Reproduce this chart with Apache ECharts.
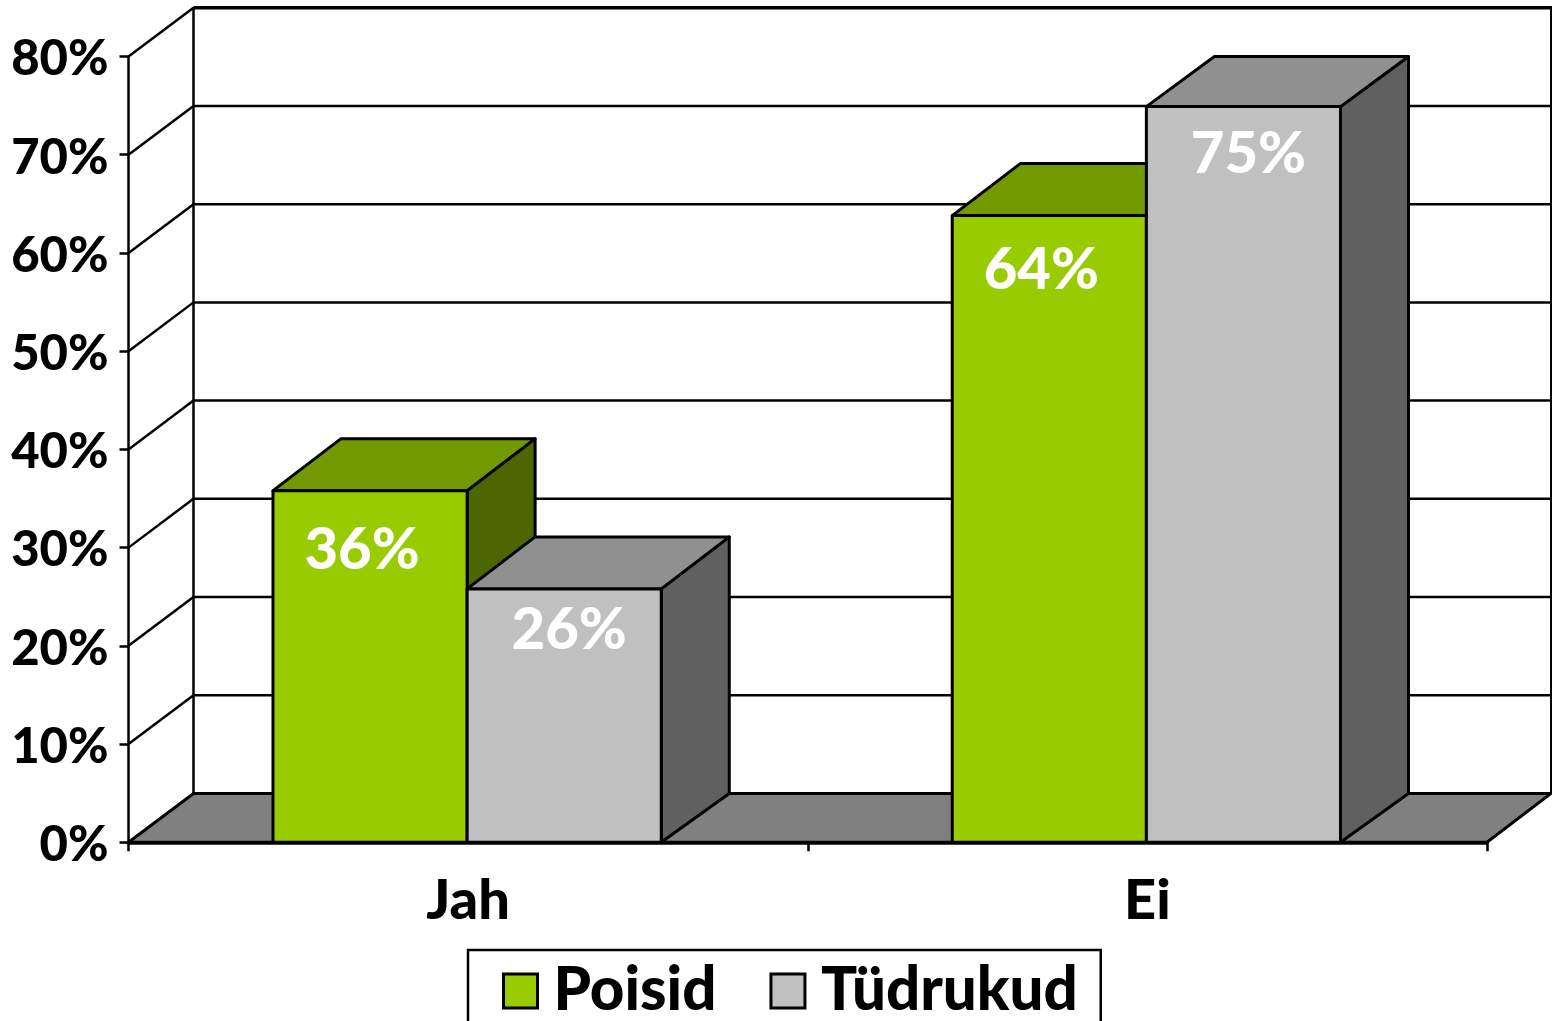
<!DOCTYPE html>
<html><head><meta charset="utf-8">
<style>html,body{margin:0;padding:0;background:#fff}#c{width:1552px;height:1021px}</style>
<script src="https://cdn.jsdelivr.net/npm/echarts@6/dist/echarts.min.js"></script>
</head><body><div id="c"></div>
<script>
const categories = ['Jah', 'Ei'];
const yTicks = [0, 10, 20, 30, 40, 50, 60, 70, 80];
const poisid = [35.8, 63.8];
const tudrukud = [25.8, 74.9];
const poisidLabels = ['36%', '64%'];
const tudrukudLabels = ['26%', '75%'];
const poisidLabelDrop = [60, 55];
const tudrukudLabelDrop = [41, 48];

const FONT = 'Lato';
const WALL_DX = 65, WALL_DY = 48.8;
const BAR_DX = 68, BAR_DY = 52;
const BAR_RATIO = 0.2858;
const BAR_NUDGE = -1;

function wallItem(params, api) {
  const c = params.coordSys;
  const b = c.y + c.height, r = c.x + c.width;
  const top = c.y - WALL_DY, bx = c.x + WALL_DX, by = b - WALL_DY;
  return { type: 'group', children: [
    { type: 'polygon', shape: { points: [[c.x, b], [bx, by], [r + WALL_DX - 1, by], [r, b]] },
      style: { fill: '#808080', stroke: '#000', lineWidth: 3 } },
    { type: 'line', shape: { x1: bx, y1: top, x2: bx, y2: by }, style: { stroke: '#000', lineWidth: 2.5 } },
    { type: 'line', shape: { x1: bx, y1: top, x2: r + WALL_DX, y2: top }, style: { stroke: '#000', lineWidth: 3.5 } },
    { type: 'line', shape: { x1: r + WALL_DX - 1, y1: top, x2: r + WALL_DX - 1, y2: by }, style: { stroke: '#000', lineWidth: 2 } }
  ]};
}
function gridItem(params, api) {
  const c = params.coordSys;
  const y = api.coord([0, api.value(0)])[1];
  const style = { stroke: '#000', lineWidth: 2.5 };
  return { type: 'group', children: [
    { type: 'line', shape: { x1: c.x, y1: y, x2: c.x + WALL_DX, y2: y - WALL_DY }, style },
    { type: 'line', shape: { x1: c.x + WALL_DX, y1: y - WALL_DY, x2: c.x + c.width + WALL_DX, y2: y - WALL_DY }, style }
  ]};
}
function barRenderer(side, front, top, dark, labels, drops, labelShift) {
  return function (params, api) {
    const idx = api.value(0);
    const p = api.coord([idx, api.value(1)]);
    const base = api.coord([idx, 0])[1];
    const ceil = api.coord([idx, 80])[1];
    const w = api.size([1, 0])[0] * BAR_RATIO;
    const x0 = (side < 0 ? p[0] - w : p[0]) + BAR_NUDGE;
    const x1 = x0 + w, y = p[1];
    const by = Math.max(y - BAR_DY, ceil);
    const line = { stroke: '#000', lineWidth: 3, lineJoin: 'round' };
    return { type: 'group', children: [
      { type: 'polygon', shape: { points: [[x1, y], [x1 + BAR_DX, by], [x1 + BAR_DX, base - WALL_DY], [x1, base]] },
        style: Object.assign({ fill: dark }, line) },
      { type: 'polygon', shape: { points: [[x0, y], [x0 + BAR_DX, by], [x1 + BAR_DX, by], [x1, y]] },
        style: Object.assign({ fill: top }, line) },
      { type: 'rect', shape: { x: x0, y: y, width: w, height: base - y },
        style: Object.assign({ fill: front }, line) },
      { type: 'text', z2: 10, style: { text: labels[idx], x: (x0 + x1) / 2 + labelShift, y: y + drops[idx],
          fill: '#fff', fontSize: 58, fontWeight: 900, fontFamily: FONT, align: 'center', verticalAlign: 'middle' } }
    ]};
  };
}

const chart = echarts.init(document.getElementById('c'), null, { renderer: 'canvas' });
chart.setOption({
  animation: false,
  backgroundColor: '#fff',
  grid: { left: 128.5, right: 65, top: 56.5, bottom: 178.7 },
  legend: {
    data: ['Poisid', 'Tüdrukud'], left: 468, top: 950, orient: 'horizontal',
    padding: [11, 23, 60, 34], itemGap: 53, itemWidth: 34, itemHeight: 34, icon: 'rect',
    borderColor: '#000', borderWidth: 2.5, backgroundColor: '#fff',
    itemStyle: { borderColor: '#000', borderWidth: 3 },
    textStyle: { color: '#000', fontSize: 60, fontWeight: 900, fontFamily: FONT, padding: [4, 0, 0, 11] }
  },
  xAxis: { type: 'category', data: categories, z: 6,
    axisLine: { lineStyle: { color: '#000', width: 3.5 } },
    axisTick: { show: true, length: 9, lineStyle: { color: '#000', width: 2.5 } },
    axisLabel: { color: '#000', fontSize: 56, fontWeight: 900, fontFamily: FONT, margin: 31 } },
  yAxis: { type: 'value', min: 0, max: 80, interval: 10, z: 6, splitLine: { show: false },
    axisLine: { show: true, lineStyle: { color: '#000', width: 2.5 } },
    axisTick: { show: true, length: 9, lineStyle: { color: '#000', width: 2.5 } },
    axisLabel: { color: '#000', fontSize: 49, fontWeight: 900, fontFamily: FONT, margin: 20, verticalAlign: 'top', lineHeight: 6, formatter: '{value}%' } },
  series: [
    { type: 'custom', name: 'walls', z: 1, data: [[0]], renderItem: wallItem, silent: true },
    { type: 'custom', name: 'gridlines', z: 1, data: yTicks.slice(1).map(v => [v]), renderItem: gridItem, silent: true, encode: { y: 0 } },
    { type: 'custom', name: 'Poisid', z: 3, itemStyle: { color: '#99CC00' }, encode: { x: 0, y: 1 },
      data: poisid.map((v, i) => [i, v]),
      renderItem: barRenderer(-1, '#99CC00', '#739900', '#4D6600', poisidLabels, poisidLabelDrop, -8) },
    { type: 'custom', name: 'Tüdrukud', z: 3, itemStyle: { color: '#C0C0C0' }, encode: { x: 0, y: 1 },
      data: tudrukud.map((v, i) => [i, v]),
      renderItem: barRenderer(1, '#C0C0C0', '#909090', '#606060', tudrukudLabels, tudrukudLabelDrop, 5) }
  ]
});
</script></body></html>
